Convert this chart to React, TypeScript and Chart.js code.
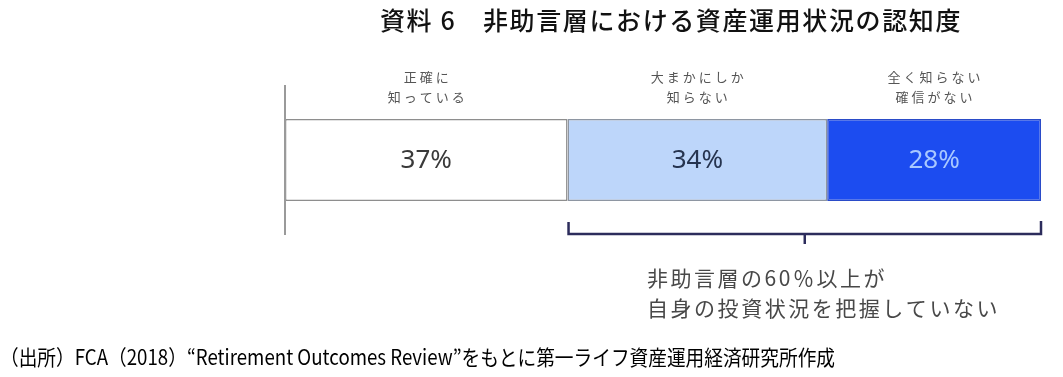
import React, { useEffect, useRef } from "react";
import { Chart, registerables } from "chart.js";

Chart.register(...registerables);

const titleText = "資料 6　非助言層における資産運用状況の認知度";
const categoryLines: string[][] = [
  ["正確に", "知っている"],
  ["大まかにしか", "知らない"],
  ["全く知らない", "確信がない"],
];
const values: number[] = [37, 34, 28];
const segmentColors: string[] = ["#ffffff", "#bdd6fa", "#1c4cf0"];
const segmentBorders: string[] = ["#8e8e8e", "#8e96a2", "#2a4bc8"];
const valueTextColors: string[] = ["#3a3a3a", "#26344f", "#a9c8ff"];
const noteLines: string[] = ["非助言層の60％以上が", "自身の投資状況を把握していない"];
const sourceText =
  "（出所）FCA（2018）“Retirement Outcomes Review”をもとに第一ライフ資産運用経済研究所作成";

const JP = '"Noto Sans CJK JP", "Noto Sans", sans-serif';

function drawFit(
  ctx: CanvasRenderingContext2D,
  text: string,
  left: number,
  y: number,
  width: number
) {
  const c: any = ctx;
  c.letterSpacing = "0px";
  ctx.textAlign = "left";
  const w = ctx.measureText(text).width;
  const n = Array.from(text).length;
  if (w < width) {
    c.letterSpacing = `${(width - w) / n}px`;
    ctx.fillText(text, left, y);
  } else {
    ctx.fillText(text, left, y, width);
  }
  c.letterSpacing = "0px";
}

const decorPlugin = {
  id: "decor",
  afterDatasetsDraw(chart: any) {
    const ctx: CanvasRenderingContext2D = chart.ctx;
    const area = chart.chartArea;
    const xs = chart.scales.x;
    ctx.save();

    // vertical axis line
    ctx.strokeStyle = "#9a9a9a";
    ctx.lineWidth = 2;
    ctx.beginPath();
    ctx.moveTo(area.left, area.top);
    ctx.lineTo(area.left, area.bottom);
    ctx.stroke();

    // labels on and above segments
    ctx.textBaseline = "middle";
    let cum = 0;
    values.forEach((v, i) => {
      const x0 = xs.getPixelForValue(cum);
      const x1 = xs.getPixelForValue(cum + v);
      cum += v;
      const cx = (x0 + x1) / 2;
      const meta = chart.getDatasetMeta(i);
      const bar = meta.data[0];
      const top = bar.y - bar.height / 2;
      // value label
      ctx.fillStyle = valueTextColors[i];
      ctx.font = `26px "Noto Sans", sans-serif`;
      ctx.textAlign = "center";
      (ctx as any).letterSpacing = "0px";
      ctx.fillText(`${v}%`, cx, bar.y + 1);
      // category label
      ctx.fillStyle = "#555555";
      ctx.font = `13px ${JP}`;
      (ctx as any).letterSpacing = "3px";
      categoryLines[i].forEach((line, j) => {
        ctx.fillText(line, cx + 1.5, top - 42 + j * 20);
      });
      (ctx as any).letterSpacing = "0px";
    });

    // bracket under the last two segments
    const bx0 = xs.getPixelForValue(values[0]) + 1;
    const bx1 = xs.getPixelForValue(values.reduce((a, b) => a + b, 0));
    const by = area.bottom - 1;
    ctx.strokeStyle = "#2c2c5c";
    ctx.lineWidth = 2.5;
    ctx.beginPath();
    ctx.moveTo(bx0, by - 12);
    ctx.lineTo(bx0, by);
    ctx.lineTo(bx1, by);
    ctx.lineTo(bx1, by - 13);
    ctx.stroke();
    const mid = (bx0 + bx1) / 2;
    ctx.beginPath();
    ctx.moveTo(mid, by);
    ctx.lineTo(mid, by + 10);
    ctx.stroke();

    // note text
    ctx.fillStyle = "#484848";
    ctx.font = `21px ${JP}`;
    ctx.textBaseline = "middle";
    drawFit(ctx, noteLines[0], 647, 278, 240);
    drawFit(ctx, noteLines[1], 647, 308, 353);

    // title
    ctx.fillStyle = "#111111";
    ctx.font = `500 25px ${JP}`;
    drawFit(ctx, titleText, 380, 20, 582);

    // source
    ctx.fillStyle = "#000000";
    ctx.font = `21px ${JP}`;
    drawFit(ctx, sourceText, 0, 357, 835);

    ctx.restore();
  },
};

export default function App() {
  const ref = useRef<HTMLCanvasElement | null>(null);
  useEffect(() => {
    if (!ref.current) return;
    const total = values.reduce((a, b) => a + b, 0);
    const chart = new Chart(ref.current, {
      type: "bar",
      data: {
        labels: [""],
        datasets: values.map((v, i) => ({
          label: categoryLines[i].join(""),
          data: [v],
          backgroundColor: segmentColors[i],
          borderColor: segmentBorders[i],
          borderWidth: 1.5,
          borderSkipped: false,
          barPercentage: 0.547,
          categoryPercentage: 1,
          stack: "s",
        })),
      },
      options: {
        indexAxis: "y",
        responsive: false,
        animation: false,
        layout: { padding: { left: 285, right: 22, top: 85, bottom: 142 } },
        scales: {
          x: { stacked: true, min: 0, max: total, display: false },
          y: { stacked: true, display: false },
        },
        plugins: { legend: { display: false }, tooltip: { enabled: false } },
      },
      plugins: [decorPlugin],
    } as any);
    return () => chart.destroy();
  }, []);
  return (
    <div style={{ position: "fixed", left: 0, top: 0, width: 1063, height: 377, background: "#fff" }}>
      <canvas ref={ref} width={1063} height={377} style={{ display: "block" }} />
    </div>
  );
}
